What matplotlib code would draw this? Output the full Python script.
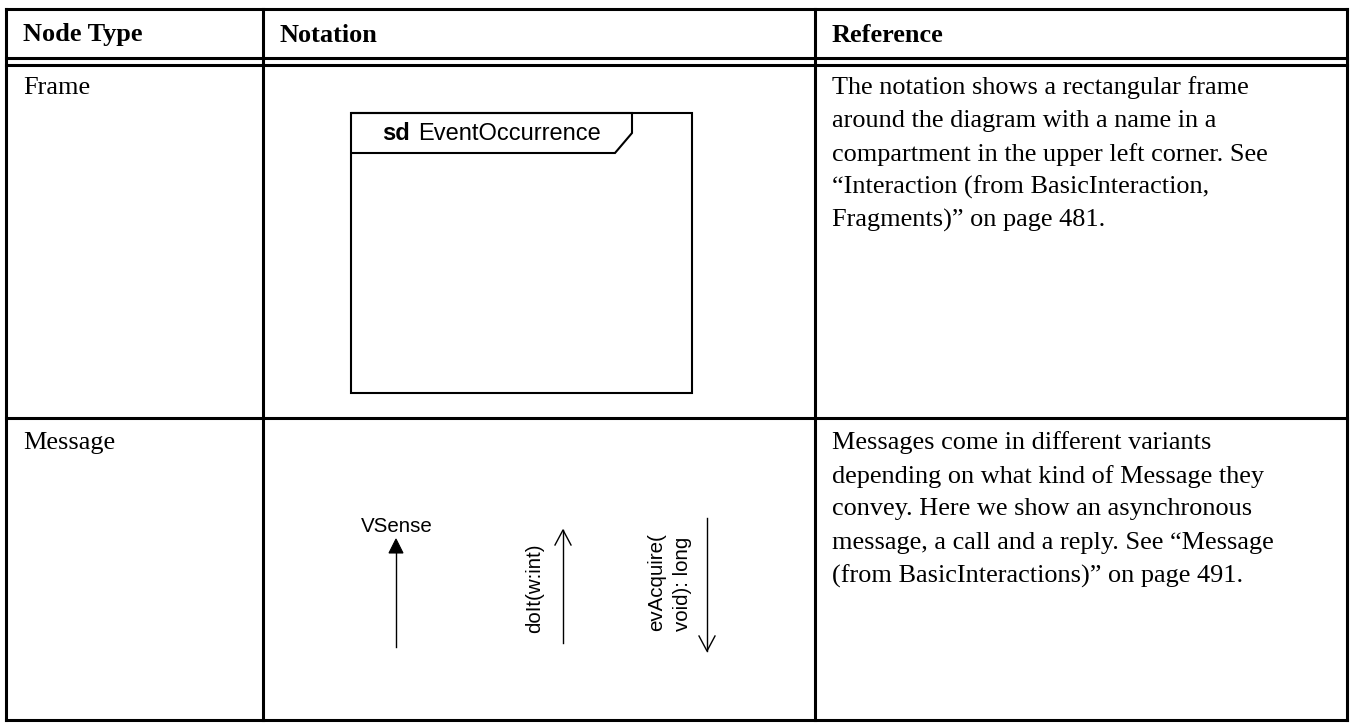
import matplotlib
matplotlib.use("Agg")
import matplotlib.pyplot as plt
from matplotlib.patches import Polygon

# ---- content ----
headers = ["Node Type", "Notation", "Reference"]
node_types = ["Frame", "Message"]
reference_lines = [
    ["The notation shows a rectangular frame",
     "around the diagram with a name in a",
     "compartment in the upper left corner. See",
     "\u201cInteraction (from BasicInteraction,",
     "Fragments)\u201d on page 481."],
    ["Messages come in different variants",
     "depending on what kind of Message they",
     "convey. Here we show an asynchronous",
     "message, a call and a reply. See \u201cMessage",
     "(from BasicInteractions)\u201d on page 491."],
]
frame_keyword = "sd"
frame_name = "EventOccurrence"
msg_async = "VSense"
msg_call = "doIt(w:int)"
msg_reply = ["evAcquire(", "void): long"]

# ---- layout (pixel space) ----
W, H = 1351, 723
fig = plt.figure(figsize=(W / 100, H / 100), dpi=100)
ax = fig.add_axes([0, 0, 1, 1])
ax.set_xlim(0, W)
ax.set_ylim(H, 0)
ax.axis("off")

SERIF = "Liberation Serif"
SANS = "Liberation Sans"
fs_serif = 18.9
fs_sd = 17
fs_msg = 14.8

col_x = [6, 263, 815, 1347]
top, head_bot, head_bot2, row_div, bottom = 9, 58, 65, 418, 720
lw_t = 2.2

def hline(y, x0=col_x[0], x1=col_x[-1], lw=lw_t):
    ax.plot([x0, x1], [y, y], color="black", lw=lw, solid_capstyle="projecting")

def vline(x, y0, y1, lw=lw_t):
    ax.plot([x, x], [y0, y1], color="black", lw=lw, solid_capstyle="projecting")

for y in (top, head_bot, head_bot2, row_div, bottom):
    hline(y)
for x in col_x:
    vline(x, top, bottom)

# headers
for i, h in enumerate(headers):
    ax.text(col_x[i] + 17, 35, h, family=SERIF,
            weight="bold", fontsize=fs_serif, va="center", ha="left")

row_text_y = [88, 443]
line_h = 33.2
for r, nt in enumerate(node_types):
    ax.text(col_x[0] + 17, row_text_y[r], nt, family=SERIF, fontsize=fs_serif,
            va="center", ha="left")
    for k, ln in enumerate(reference_lines[r]):
        ax.text(col_x[2] + 17, row_text_y[r] + k * line_h, ln, family=SERIF,
                fontsize=fs_serif, va="center", ha="left")

# ---- Frame notation ----
bx0, by0, bx1, by1 = 351, 113, 692, 393
ax.add_patch(plt.Rectangle((bx0, by0), bx1 - bx0, by1 - by0, fill=False,
                           ec="black", lw=1.5))
tab = [(bx0, by0), (632, by0), (632, 133), (615, 153), (bx0, 153)]
ax.add_patch(Polygon(tab, closed=False, fill=False, ec="black", lw=1.5))
ax.text(382, 134, frame_keyword, family=SANS, weight="bold",
        fontsize=fs_sd, va="center", ha="left")
ax.text(418, 134, frame_name, family=SANS, fontsize=fs_sd,
        va="center", ha="left")

# ---- Message notation ----
# asynchronous (filled head)
ax.plot([396, 396], [553, 647], color="black", lw=1.0)
ax.add_patch(Polygon([(396, 539), (389, 553), (403, 553)], closed=True,
                     fc="black", ec="black", lw=0.8))
ax.text(397, 527, msg_async, family=SANS, fontsize=fs_msg, ha="center",
        va="center")

# call (open head, up)
ax.plot([563, 563], [530, 643], color="black", lw=1.0)
ax.plot([555, 563, 571], [545, 530, 545], color="black", lw=1.0)
ax.text(535, 588, msg_call, family=SANS, fontsize=fs_msg, rotation=90,
        ha="center", va="center")

# reply (open head, down)
ax.plot([707, 707], [518, 651], color="black", lw=1.0)
ax.plot([699, 707, 715], [636, 651, 636], color="black", lw=1.0)
for k, ln in enumerate(msg_reply):
    ax.text(657 + 26 * k, 631, ln, family=SANS, fontsize=fs_msg, rotation=90,
            ha="left", va="center", rotation_mode="anchor")

fig.savefig("out.png", dpi=100)
